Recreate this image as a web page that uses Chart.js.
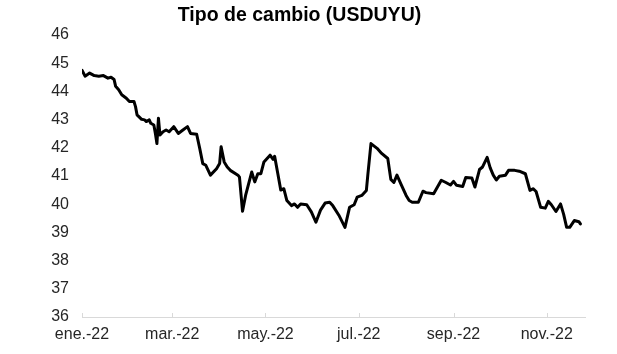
<!DOCTYPE html>
<html>
<head>
<meta charset="utf-8">
<script src="https://cdn.jsdelivr.net/npm/chart.js@4/dist/chart.umd.min.js"></script>
<style>
  html, body { margin: 0; padding: 0; background: #fff; }
  #wrap { width: 617px; height: 354px; }
</style>
</head>
<body>
<div id="wrap"><canvas id="chart" width="617" height="354"></canvas></div>
<script>
// Días desde el 1 de enero de 2022 y cotización USD/UYU
const dias = [0, 2, 5, 8, 11, 14, 17, 19, 21, 22, 24, 26, 29, 31, 34, 35, 36, 39, 41, 42,
  44, 45, 47, 48, 49, 50, 51, 53, 55, 57, 60, 63, 66, 69, 71, 75, 77, 79, 81, 84,
  88, 90, 91, 93, 95, 97, 102, 103, 105, 107, 111, 113, 115, 117, 119, 123, 125, 126, 128, 130,
  132, 134, 137, 139, 141, 143, 147, 150, 153, 156, 159, 162, 164, 168, 172, 175, 178, 180, 183, 186,
  187, 189, 193, 196, 200, 202, 204, 206, 209, 212, 214, 216, 220, 223, 225, 230, 235, 238, 241, 243,
  245, 249, 251, 255, 257, 260, 262, 265, 267, 269, 271, 273, 277, 279, 283, 286, 290, 293, 295, 297,
  300, 303, 305, 307, 310, 313, 315, 317, 319, 322, 325, 326];

const usduyu = [44.75, 44.54, 44.65, 44.56, 44.54, 44.56, 44.47, 44.50, 44.42, 44.18, 44.06, 43.88, 43.76, 43.64, 43.64, 43.46, 43.17, 43.01, 42.99, 42.93,
  42.99, 42.87, 42.81, 42.51, 42.15, 43.05, 42.45, 42.57, 42.63, 42.57, 42.75, 42.51, 42.63, 42.75, 42.51, 42.48, 41.98, 41.44, 41.38, 41.03,
  41.26, 41.44, 42.04, 41.50, 41.32, 41.20, 41.03, 40.96, 39.75, 40.31, 41.14, 40.79, 41.08, 41.08, 41.50, 41.74, 41.59, 41.70, 41.11, 40.50,
  40.55, 40.13, 39.95, 40.01, 39.89, 40.01, 39.98, 39.73, 39.36, 39.79, 40.04, 40.07, 39.95, 39.61, 39.18, 39.89, 39.98, 40.25, 40.31, 40.49,
  41.07, 42.15, 41.98, 41.80, 41.62, 40.88, 40.77, 41.03, 40.67, 40.31, 40.13, 40.07, 40.07, 40.46, 40.41, 40.37, 40.85, 40.77, 40.68, 40.81,
  40.67, 40.63, 40.95, 40.93, 40.61, 41.23, 41.32, 41.66, 41.29, 41.03, 40.86, 40.99, 41.03, 41.20, 41.20, 41.17, 41.08, 40.49, 40.55, 40.45,
  39.89, 39.86, 40.10, 39.98, 39.74, 40.01, 39.65, 39.18, 39.18, 39.42, 39.38, 39.30];

// Marcas del eje X: primer día de cada mes indicado
const diasMes = [0, 59, 120, 181, 243, 304];
const etiquetasMes = ['ene.-22', 'mar.-22', 'may.-22', 'jul.-22', 'sep.-22', 'nov.-22'];

const puntos = dias.map((d, i) => ({ x: d, y: usduyu[i] }));

// pequeñas marcas hacia adentro sobre el eje X
const marcasEje = {
  id: 'marcasEje',
  afterDraw(chart) {
    const ctx = chart.ctx;
    const sx = chart.scales.x;
    const base = chart.chartArea.bottom;
    ctx.save();
    ctx.strokeStyle = '#d9d9d9';
    ctx.lineWidth = 1;
    sx.ticks.forEach(t => {
      const px = Math.round(sx.getPixelForValue(t.value)) + 0.5;
      ctx.beginPath();
      ctx.moveTo(px, base);
      ctx.lineTo(px, base - 4);
      ctx.stroke();
    });
    ctx.restore();
  }
};

new Chart(document.getElementById('chart'), {
  type: 'line',
  data: {
    datasets: [{
      data: puntos,
      borderColor: '#000',
      borderWidth: 3,
      borderJoinStyle: 'round',
      borderCapStyle: 'round',
      pointRadius: 0,
      tension: 0,
      fill: false
    }]
  },
  options: {
    responsive: false,
    animation: false,
    layout: { padding: { left: 14, right: 32, top: 0, bottom: 0 } },
    plugins: {
      legend: { display: false },
      tooltip: { enabled: false },
      title: {
        display: true,
        text: 'Tipo de cambio (USDUYU)',
        color: '#000',
        font: { family: 'Liberation Sans, Arial, sans-serif', size: 19.5, weight: 'bold' },
        padding: { top: 3.5, bottom: 8.1 }
      }
    },
    scales: {
      x: {
        type: 'linear',
        min: 0,
        max: 329,
        afterBuildTicks: scale => {
          scale.ticks = diasMes.map(v => ({ value: v }));
        },
        afterFit: scale => { scale.height = 37; },
        grid: { display: false, drawTicks: false },
        border: { display: true, color: '#d9d9d9', width: 1 },
        ticks: {
          padding: 8,
          maxRotation: 0,
          autoSkip: false,
          color: '#262626',
          font: { family: 'Liberation Sans, Arial, sans-serif', size: 16 },
          callback: (value, index) => etiquetasMes[index]
        }
      },
      y: {
        min: 36,
        max: 46,
        afterFit: scale => { scale.width = 68; },
        grid: { display: false, drawTicks: false },
        border: { display: false },
        ticks: {
          stepSize: 1,
          padding: 13,
          color: '#262626',
          font: { family: 'Liberation Sans, Arial, sans-serif', size: 16 }
        }
      }
    }
  },
  plugins: [marcasEje]
});
</script>
</body>
</html>
